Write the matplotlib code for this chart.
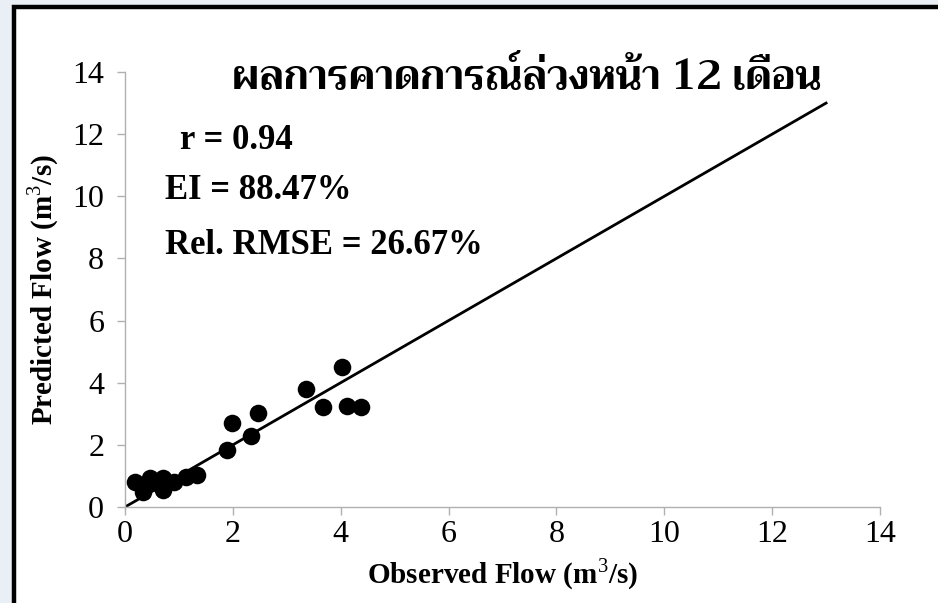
import matplotlib
matplotlib.use("Agg")
import matplotlib.pyplot as plt
from matplotlib import font_manager
from matplotlib.patches import Rectangle
from fontTools.ttLib import TTFont

# Observed vs. predicted monthly flow (m^3/s), 12-month-ahead forecast
observed = [0.19, 0.34, 0.46, 0.60, 0.71, 0.71, 0.90, 1.14, 1.33,
            1.89, 1.98, 2.34, 2.47, 3.36, 3.68, 4.03, 4.12, 4.37]
predicted = [0.81, 0.49, 0.92, 0.78, 0.92, 0.55, 0.81, 0.97, 1.03,
             1.83, 2.71, 2.29, 3.04, 3.80, 3.23, 4.50, 3.26, 3.23]
line_x = [0, 13]
line_y = [0, 13]
ticks = [0, 2, 4, 6, 8, 10, 12, 14]

title = "ผลการคาดการณ์ล่วงหน้า 12 เดือน"
stats = ["r = 0.94", "EI = 88.47%", "Rel. RMSE = 26.67%"]
xlabel = "Observed Flow (m$^3$/s)"
ylabel = "Predicted Flow (m$^3$/s)"


def find_thai_family():
    """Return an installed family that covers Thai script, if any."""
    best = None
    for fe in font_manager.fontManager.ttflist:
        try:
            f = TTFont(fe.fname, fontNumber=0, lazy=True)
            cmap = f.getBestCmap() or {}
        except Exception:
            continue
        if 0x0E01 in cmap and 0x0E13 in cmap:
            if best is None or "Serif" in fe.name or "Bold" in fe.fname:
                best = fe.name
    return best


serif = "Liberation Serif"
thai = find_thai_family()
title_family = [thai, serif, "DejaVu Sans"] if thai else [serif, "DejaVu Sans"]

plt.rcParams["font.family"] = [serif, "DejaVu Serif"]
plt.rcParams["mathtext.fontset"] = "custom"
plt.rcParams["mathtext.rm"] = serif
plt.rcParams["mathtext.bf"] = serif + ":bold"

fig = plt.figure(figsize=(9.38, 6.03), dpi=100)
fig.patch.set_facecolor("#e9eff5")

# white slide panel with a black frame on the top and left
W, H = 938.0, 603.0
panel = Rectangle((14 / W, -0.05), 1.1, (H - 7) / H + 0.05,
                  transform=fig.transFigure, facecolor="white",
                  edgecolor="black", linewidth=3.2, zorder=-5)
fig.patches.append(panel)

ax = fig.add_axes([125 / W, (H - 507) / H, 755 / W, 435 / H])
ax.set_zorder(2)
ax.set_facecolor("none")
ax.set_xlim(0, 14)
ax.set_ylim(0, 14)
ax.set_xticks(ticks)
ax.set_yticks(ticks)
ax.tick_params(axis="both", labelsize=23, color="#b0b0b0", length=6,
               width=1, direction="out")
ax.tick_params(axis="y", pad=9)
ax.tick_params(axis="x", pad=3)
for side in ("top", "right"):
    ax.spines[side].set_visible(False)
for side in ("left", "bottom"):
    ax.spines[side].set_color("#b0b0b0")
    ax.spines[side].set_linewidth(1)

ax.plot(line_x, line_y, color="black", linewidth=2.0, zorder=2)
ax.scatter(observed, predicted, s=160, color="black", zorder=3,
           linewidths=0, clip_on=False)

ax.set_xlabel(xlabel, fontsize=21, fontweight="bold", labelpad=6)
ax.set_ylabel(ylabel, fontsize=21, fontweight="bold", labelpad=8)

ax.text(0.532, 0.985, title, transform=ax.transAxes, ha="center",
        va="center", fontsize=29, fontweight="bold", family=title_family)

stat_pos = [(1.02, 11.78), (0.74, 10.2), (0.74, 8.43)]
for (sx, sy), s in zip(stat_pos, stats):
    ax.text(sx, sy, s, ha="left", va="center", fontsize=25,
            fontweight="bold")

fig.savefig("out.png", dpi=100, facecolor=fig.get_facecolor())
